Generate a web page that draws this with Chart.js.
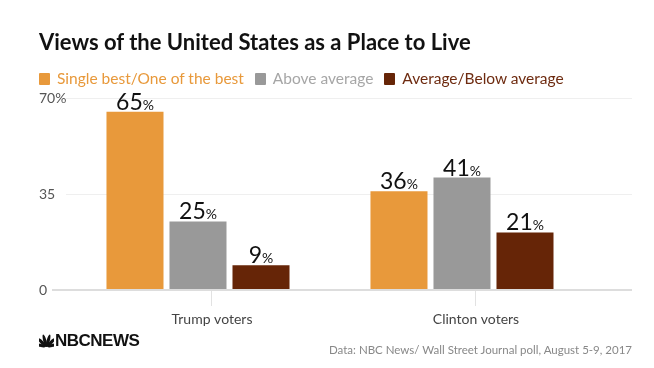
<!DOCTYPE html>
<html>
<head>
<meta charset="utf-8">
<script src="https://cdn.jsdelivr.net/npm/chart.js@4/dist/chart.umd.min.js"></script>
<style>
    body { margin: 0; background: #fff; }
    #wrap { position: relative; width: 654px; height: 368px; overflow: hidden; font-family: Lato, 'Open Sans', sans-serif; }
    #chart { position: absolute; left: 0; top: 0; }
    .title { position: absolute; left: 39px; top: 28px; font-size: 22px; font-weight: bold; color: #111; white-space: nowrap; }
    .legend { position: absolute; left: 39px; top: 69px; font-size: 15.5px; white-space: nowrap; }
    .legend span.item { margin-right: 11px; }
    .legend i { display: inline-block; width: 11px; height: 12px; border-radius: 1px; margin-right: 7px; vertical-align: -1px; }
    .logo { position: absolute; left: 39px; top: 333px; height: 16px; white-space: nowrap; }
    .logo svg { vertical-align: top; margin-right: 1px; }
    .logo b { font-family: 'Liberation Sans Narrow', 'Liberation Sans', sans-serif; font-size: 17px; letter-spacing: -0.5px; color: #111; line-height: 16px; vertical-align: top; }
    .source { position: absolute; right: 22px; top: 343px; font-size: 11.5px; color: #888; white-space: nowrap; }
</style>
</head>
<body>
<div id="wrap">
    <canvas id="chart" width="654" height="368"></canvas>
    <div class="title">Views of the United States as a Place to Live</div>
    <div class="legend" id="legend"></div>
    <div class="logo">
        <svg width="15" height="15" viewBox="0 0 30 30">
            <g fill="#111">
                <ellipse cx="15" cy="15" rx="3.2" ry="11" transform="rotate(-75 15 28)"/>
                <ellipse cx="15" cy="15" rx="3.2" ry="12" transform="rotate(-45 15 28)"/>
                <ellipse cx="15" cy="15" rx="3.2" ry="13" transform="rotate(-15 15 28)"/>
                <ellipse cx="15" cy="15" rx="3.2" ry="13" transform="rotate(15 15 28)"/>
                <ellipse cx="15" cy="15" rx="3.2" ry="12" transform="rotate(45 15 28)"/>
                <ellipse cx="15" cy="15" rx="3.2" ry="11" transform="rotate(75 15 28)"/>
            </g>
        </svg><b>NBCNEWS</b>
    </div>
    <div class="source">Data: NBC News/ Wall Street Journal poll, August 5-9, 2017</div>
</div>
<script>
'use strict';

const categories = ['Trump voters', 'Clinton voters'];
const seriesNames = ['Single best/One of the best', 'Above average', 'Average/Below average'];
const singleBest = [65, 36];
const aboveAverage = [25, 41];
const belowAverage = [9, 21];
const yTicks = [0, 35, 70];
const yTickLabels = ['0', '35', '70%'];

const COLORS = ['#e8993b', '#999999', '#662507'];
const TEXT_COLORS = ['#e8993b', '#a6a6a6', '#6e2b10'];
const LABEL_SHIFT = 0.053; // category labels sit a little right of the bar groups

document.addEventListener('DOMContentLoaded', function () {
    const legend = document.getElementById('legend');
    seriesNames.forEach((name, i) => {
        const item = document.createElement('span');
        item.setAttribute('class', 'item');
        item.style.color = TEXT_COLORS[i];
        item.innerHTML = '<i style="background:' + COLORS[i] + '"></i>' + name;
        legend.appendChild(item);
    });

    const allSeries = [singleBest, aboveAverage, belowAverage];
    const datasets = allSeries.map((values, i) => ({
        label: seriesNames[i],
        data: values.map((v, j) => ({ x: j, y: v })),
        backgroundColor: COLORS[i],
        borderWidth: 0
    }));

    // baseline runs a bit further left than the other gridlines
    const baseline = {
        id: 'baseline',
        beforeDatasetsDraw(chart) {
            const ctx = chart.ctx;
            const y = chart.scales.y.getPixelForValue(0);
            ctx.save();
            ctx.strokeStyle = '#dddddd';
            ctx.lineWidth = 2;
            ctx.beginPath();
            ctx.moveTo(chart.chartArea.left - 14, y);
            ctx.lineTo(chart.chartArea.left, y);
            ctx.stroke();
            ctx.restore();
        }
    };

    // numbers on top of the bars, "%" in smaller type
    const valueLabels = {
        id: 'valueLabels',
        afterDatasetsDraw(chart) {
            const ctx = chart.ctx;
            ctx.save();
            ctx.fillStyle = '#111';
            ctx.textBaseline = 'alphabetic';
            ctx.textAlign = 'left';
            chart.data.datasets.forEach((ds, i) => {
                chart.getDatasetMeta(i).data.forEach((bar, j) => {
                    const num = String(allSeries[i][j]);
                    ctx.font = '23px Lato';
                    const w1 = ctx.measureText(num).width;
                    ctx.font = '14px Lato';
                    const w2 = ctx.measureText('%').width;
                    const left = bar.x - (w1 + w2) / 2;
                    ctx.font = '23px Lato';
                    ctx.fillText(num, left, bar.y - 2);
                    ctx.font = '14px Lato';
                    ctx.fillText('%', left + w1, bar.y - 2);
                });
            });
            ctx.restore();
        }
    };

    new Chart(document.getElementById('chart'), {
        type: 'bar',
        data: { datasets: datasets },
        plugins: [baseline, valueLabels],
        options: {
            responsive: false,
            animation: false,
            layout: { padding: { left: 39, right: 22, top: 98, bottom: 0 } },
            categoryPercentage: 0.716,
            barPercentage: 0.905,
            plugins: {
                legend: { display: false },
                tooltip: { enabled: false }
            },
            scales: {
                x: {
                    type: 'linear',
                    offset: false,
                    min: -0.5,
                    max: 1.644,
                    afterBuildTicks: (scale) => {
                        scale.ticks = categories.map((c, i) => ({ value: i + LABEL_SHIFT }));
                    },
                    afterFit: (scale) => { scale.height = 78; },
                    ticks: {
                        callback: (value, index) => categories[index],
                        font: { family: 'Lato', size: 14 },
                        color: '#444',
                        padding: 5,
                        maxRotation: 0
                    },
                    grid: {
                        offset: false,
                        drawOnChartArea: false,
                        drawTicks: true,
                        tickLength: 16,
                        color: '#e2e2e2'
                    },
                    border: { display: false }
                },
                y: {
                    min: 0,
                    max: 70,
                    afterBuildTicks: (scale) => {
                        scale.ticks = yTicks.map((v) => ({ value: v }));
                    },
                    afterFit: (scale) => { scale.width = 27; },
                    ticks: {
                        callback: (value, index) => yTickLabels[index],
                        font: { family: 'Lato', size: 14 },
                        color: '#555',
                        crossAlign: 'far',
                        padding: 0
                    },
                    grid: {
                        drawTicks: false,
                        color: (c) => c.tick && c.tick.value === 0 ? '#dddddd' : '#efefef',
                        lineWidth: (c) => c.tick && c.tick.value === 0 ? 2 : 1
                    },
                    border: { display: false }
                }
            }
        }
    });
});
</script>
</body>
</html>
